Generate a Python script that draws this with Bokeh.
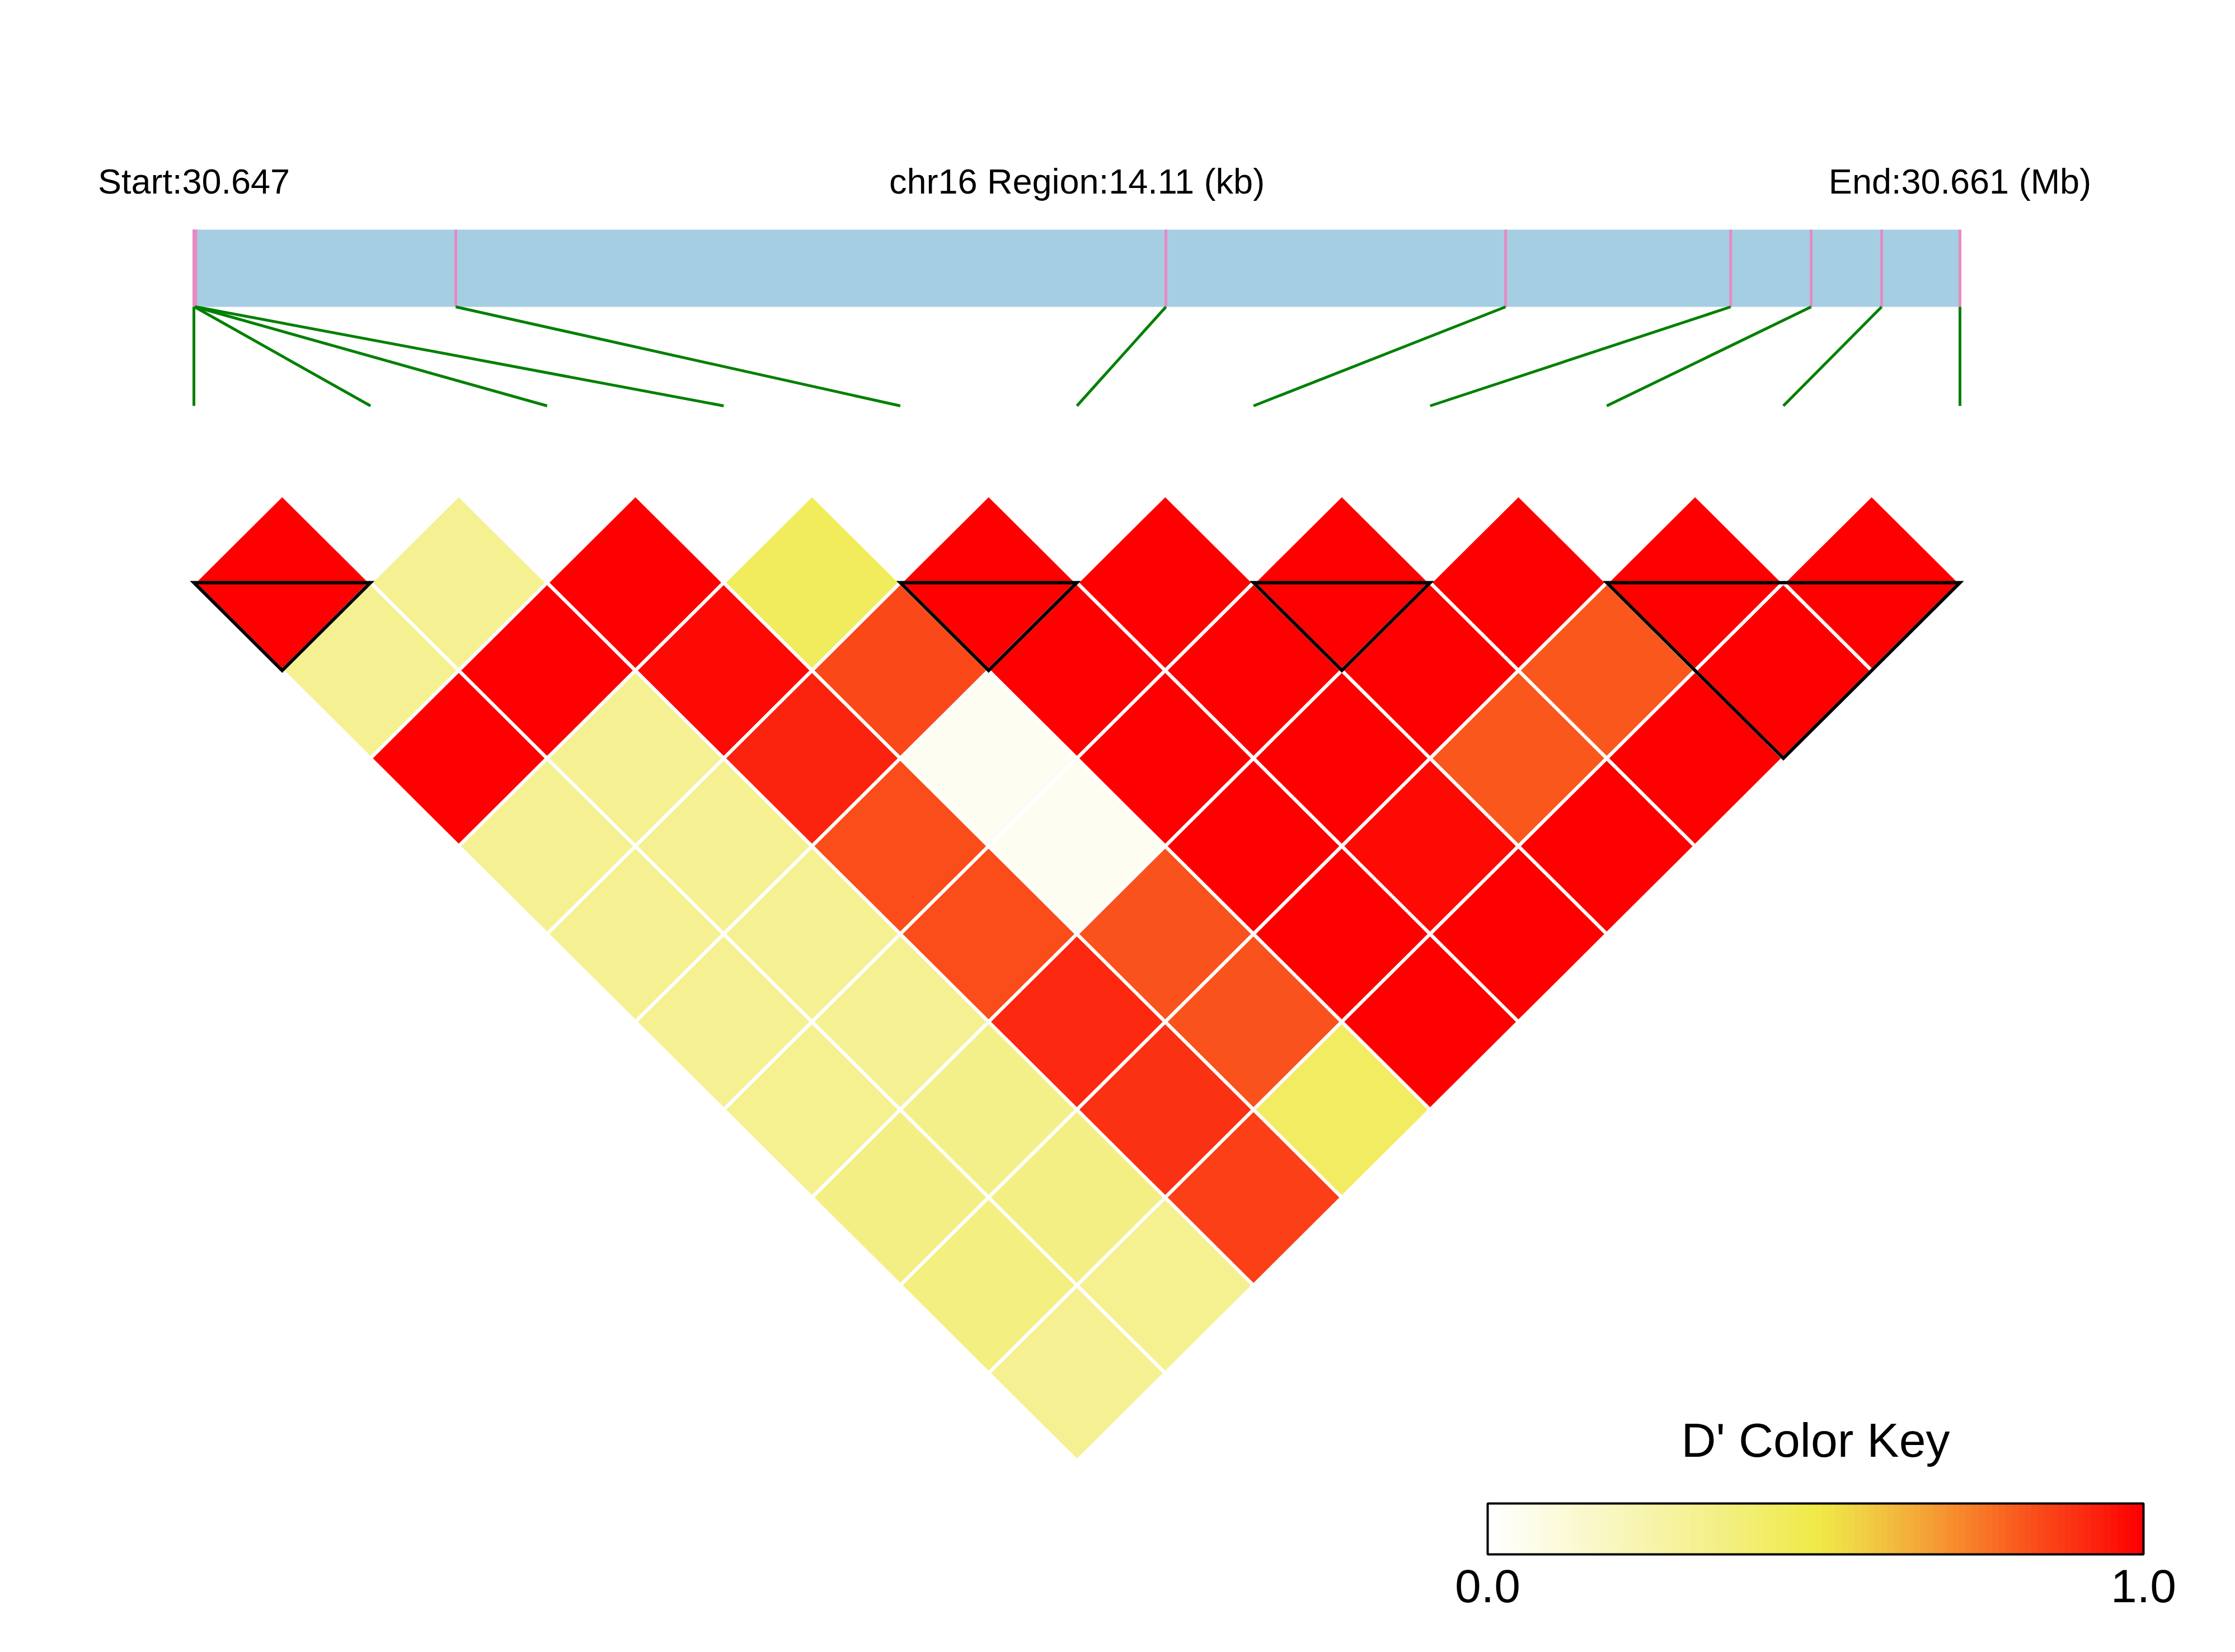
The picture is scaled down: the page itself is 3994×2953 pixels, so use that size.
import numpy as np
from bokeh.plotting import figure
from bokeh.models import Range1d, ColumnDataSource
from bokeh.core.properties import value
from bokeh.embed import file_html
from bokeh.resources import INLINE

# ---------------- data ----------------
chrom = "chr16"
snp_pos_bp = [30647000, 30647005, 30647010, 30647015, 30649092, 30654766,
              30657480, 30659278, 30659921, 30660484, 30661110]
# D' of SNP i with SNPs i+1 .. 10
dprime_0 = [1.00, 0.31, 1.00, 0.31, 0.31, 0.31, 0.32, 0.355, 0.365, 0.315]
dprime_1 = [0.31, 1.00, 0.31, 0.31, 0.31, 0.31, 0.345, 0.355, 0.32]
dprime_2 = [1.00, 0.97, 0.92, 0.83, 0.83, 0.91, 0.89, 0.86]
dprime_3 = [0.456, 0.84, 0.04, 0.04, 0.82, 0.82, 0.432]
dprime_4 = [1.00, 1.00, 1.00, 1.00, 1.00, 1.00]
dprime_5 = [1.00, 1.00, 1.00, 0.97, 1.00]
dprime_6 = [1.00, 1.00, 0.81, 1.00]
dprime_7 = [1.00, 0.81, 1.00]
dprime_8 = [1.00, 1.00]
dprime_9 = [1.00]
dprime_rows = [dprime_0, dprime_1, dprime_2, dprime_3, dprime_4,
               dprime_5, dprime_6, dprime_7, dprime_8, dprime_9]
# haplotype blocks (first SNP, last SNP)
block_start = [0, 4, 6, 8]
block_end = [1, 5, 7, 10]
# colour key
key_stops = [0.0, 0.34, 0.50, 0.56, 0.68, 0.75, 0.84, 0.92, 1.0]
key_rgb = [(255, 255, 255), (244, 240, 138), (240, 234, 72), (240, 214, 70),
           (245, 158, 52), (248, 122, 40), (250, 76, 26), (252, 40, 16), (255, 0, 0)]
key_tick_values = [0.0, 1.0]
key_tick_labels = ["0.0", "1.0"]
key_title = "D' Color Key"
n_key_bands = 100

# ---------------- layout helpers (pixel -> plot units) ----------------
W, H = 3994, 2953
X0PX, XU = 346.0, 315.6   # pixel of SNP 0, pixels per SNP index
Y0PX, YU = 884.0, 314.0   # pixel of y=0, pixels per unit


def X(px):
    return (px - X0PX) / XU


def Y(py):
    return (Y0PX - py) / YU


def band_color(v):
    b = min(int(v * n_key_bands), n_key_bands - 1)
    v = b / (n_key_bands - 1)
    for a in range(len(key_stops) - 1):
        if key_stops[a] <= v <= key_stops[a + 1]:
            t = (v - key_stops[a]) / (key_stops[a + 1] - key_stops[a])
            c = [round(key_rgb[a][k] + t * (key_rgb[a + 1][k] - key_rgb[a][k])) for k in range(3)]
            return "#%02x%02x%02x" % tuple(c)
    return "#ff0000"


n_snp = len(snp_pos_bp)
start_bp, end_bp = snp_pos_bp[0], snp_pos_bp[-1]
phys_x = [(pos - start_bp) / (end_bp - start_bp) * (n_snp - 1) for pos in snp_pos_bp]

p = figure(width=W, height=H, x_range=Range1d(X(0), X(W)), y_range=Range1d(Y(H), Y(0)),
           output_backend="svg", toolbar_location=None, x_axis_type=None, y_axis_type=None,
           min_border=0, outline_line_color=None, background_fill_color="white",
           border_fill_color="white")

# ---- region bar ----
bar_top, bar_bot = Y(410), Y(548)
p.quad(left=[phys_x[0]], right=[phys_x[-1]], bottom=[bar_bot], top=[bar_top],
       fill_color="#A6CEE3", line_color=None)
p.segment(x0=phys_x, y0=[bar_top] * n_snp, x1=phys_x, y1=[bar_bot] * n_snp,
          line_color="#E78AC3", line_width=5)
# connector lines
p.segment(x0=phys_x, y0=[bar_bot] * n_snp, x1=list(range(n_snp)), y1=[Y(725)] * n_snp,
          line_color="#008000", line_width=5)

# ---- texts ----
title_y = Y(323)
p.text(x=[phys_x[0], (phys_x[0] + phys_x[-1]) / 2, phys_x[-1]], y=[title_y] * 3,
       text=["Start:%.3f" % (start_bp / 1e6),
             "%s Region:%.2f (kb)" % (chrom, (end_bp - start_bp) / 1000),
             "End:%.3f (Mb)" % (end_bp / 1e6)],
       text_font=value("Liberation Sans"), text_font_size="63px",
       text_align="center", text_baseline="alphabetic", text_color="black")

# ---- LD cells ----
xs, ys, cols = [], [], []
for i, row in enumerate(dprime_rows):
    for k, d in enumerate(row):
        j = i + 1 + k
        cx, cy = (i + j) / 2, -(j - i) / 2
        xs.append([cx, cx + 0.5, cx, cx - 0.5])
        ys.append([cy + 0.5, cy, cy - 0.5, cy])
        cols.append(band_color(d))
p.patches(xs=xs, ys=ys, fill_color=cols, line_color="white", line_width=6)

# ---- blocks ----
bxs, bys = [], []
for a, b in zip(block_start, block_end):
    bxs.append([a, b, (a + b) / 2])
    bys.append([-0.5, -0.5, -0.5 - (b - a) / 2])
p.patches(xs=bxs, ys=bys, fill_color=None, line_color="black", line_width=6,
          line_join="miter")

# ---- colour key ----
kl, kr, kt, kb = X(2658), X(3830), Y(2687), Y(2778)
edges = np.linspace(kl, kr, n_key_bands + 1)
kcols = [band_color((b + 0.5) / n_key_bands) for b in range(n_key_bands)]
p.quad(left=edges[:-1], right=edges[1:], top=[kt] * n_key_bands, bottom=[kb] * n_key_bands,
       fill_color=kcols, line_color=kcols, line_width=1)
p.quad(left=[kl], right=[kr], top=[kt], bottom=[kb], fill_color=None,
       line_color="black", line_width=4)
p.text(x=[(kl + kr) / 2], y=[Y(2573)], text=[key_title],
       text_font=value("Liberation Sans"), text_font_size="86px",
       text_align="center", text_baseline="alphabetic", text_color="black")
p.text(x=[kl + v * (kr - kl) for v in key_tick_values], y=[Y(2834)] * 2, text=key_tick_labels,
       text_font=value("Liberation Sans"), text_font_size="84px",
       text_align="center", text_baseline="alphabetic", text_color="black")

open("out.html", "w").write(file_html(p, INLINE))
